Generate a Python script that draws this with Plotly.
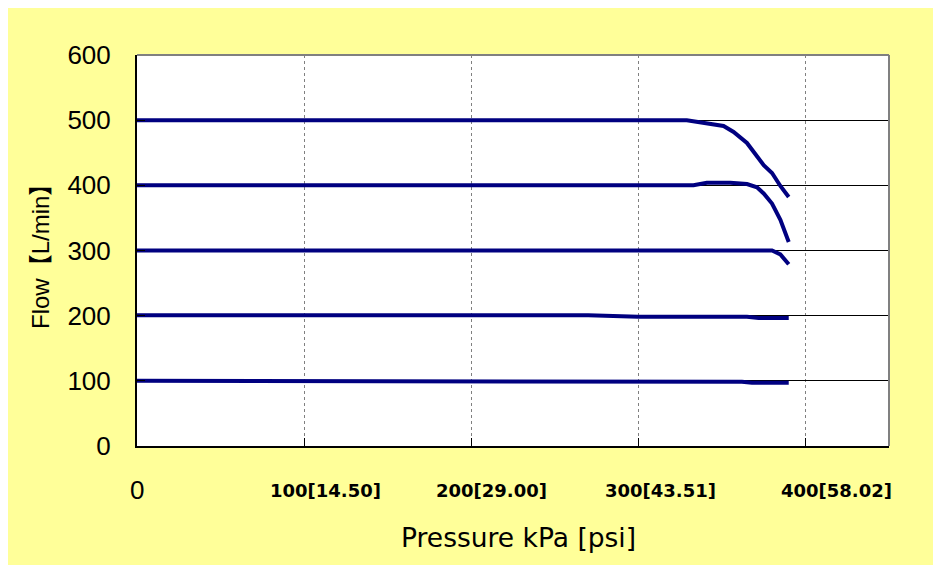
import plotly.graph_objects as go

# ---- data ----
p100 = [0, 325, 340, 362, 368, 390]
q100 = [100, 100, 98.5, 98.5, 97, 97]

p200 = [0, 270, 300, 365, 372, 390]
q200 = [200.5, 200.5, 198.5, 198.5, 196.5, 196.5]

p300 = [0, 380, 385, 390]
q300 = [300, 300, 294, 279]

p400 = [0, 333, 341, 355, 365, 371, 375, 380, 385, 390]
q400 = [400, 400, 404, 404, 402, 397, 387.5, 372, 347, 313]

p500 = [0, 329, 351, 357, 365, 370, 375, 380, 385, 390]
q500 = [500, 500, 491, 482, 465, 449, 431, 419, 399, 382]

x_tick_vals = [0, 100, 200, 300, 400]
x_tick_text = ["0", "100[14.50]", "200[29.00]", "300[43.51]", "400[58.02]"]
y_tick_vals = [0, 100, 200, 300, 400, 500, 600]

x_title = "Pressure kPa [psi]"
y_title = "Flow【L/min】"

NAVY = "#000080"
YELLOW = "#FFFF99"

fig = go.Figure()
for px, qy in [(p100, q100), (p200, q200), (p300, q300), (p400, q400), (p500, q500)]:
    fig.add_trace(go.Scatter(x=px, y=qy, mode="lines",
                             line=dict(color=NAVY, width=4),
                             showlegend=False, hoverinfo="skip"))

OFF = 8  # page body margin
W, H = 941 - OFF, 565 - OFF
# plot area in page pixels: x 137..889, y 55..446
L, R, T, B = 137 - OFF, 941 - 889, 55 - OFF, 565 - 446
pw, ph = W - L - R, H - T - B

def px2paper_x(v):
    # v in page pixels
    return (v - OFF - L) / pw

def px2paper_y(v):
    return (H - B - (v - OFF)) / ph

shapes = [
    dict(type="rect", xref="paper", yref="paper", layer="below",
         x0=px2paper_x(7), x1=px2paper_x(960),
         y0=px2paper_y(580), y1=px2paper_y(5),
         fillcolor=YELLOW, line=dict(width=0)),
    dict(type="rect", xref="paper", yref="paper", layer="below",
         x0=0, x1=1, y0=0, y1=1, fillcolor="white", line=dict(width=0)),
    dict(type="line", xref="paper", yref="paper", x0=0, x1=1, y0=1, y1=1,
         line=dict(color="#808080", width=2)),
    dict(type="line", xref="paper", yref="paper", x0=1, x1=1, y0=0, y1=1,
         line=dict(color="#808080", width=2)),
]

annotations = []
x_label_shift = [0, 21, 20, 22, 31]
for v, t, s in zip(x_tick_vals, x_tick_text, x_label_shift):
    if v == 0:
        fnt = dict(family="Liberation Sans, Arial", size=26, color="black")
    else:
        fnt = dict(family="DejaVu Sans, Verdana", size=18, color="black", weight="bold")
    annotations.append(dict(x=v, y=px2paper_y(490), xref="x", yref="paper",
                            text=t, showarrow=False, xanchor="center",
                            yanchor="middle", xshift=s, font=fnt))
annotations.append(dict(x=px2paper_x(518), y=px2paper_y(537), xref="paper", yref="paper",
                        text=x_title, showarrow=False, xanchor="center", yanchor="middle",
                        font=dict(family="DejaVu Sans, Verdana", size=26.5, color="black")))
annotations.append(dict(x=px2paper_x(40), y=px2paper_y(251), xref="paper", yref="paper",
                        text=y_title, showarrow=False, xanchor="center", yanchor="middle",
                        textangle=-90,
                        font=dict(family="Liberation Sans, Noto Sans CJK JP", size=24, color="black")))

fig.update_layout(
    width=W, height=H,
    margin=dict(l=L, r=R, t=T, b=B, pad=0),
    paper_bgcolor="white",
    plot_bgcolor="white",
    shapes=shapes,
    annotations=annotations,
    xaxis=dict(range=[0, 450], tickvals=x_tick_vals, showticklabels=False,
               showgrid=True, gridcolor="#808080", gridwidth=1, griddash="dot",
               showline=True, linecolor="black", linewidth=2,
               ticks="inside", ticklen=8, tickcolor="black", tickwidth=1,
               zeroline=False, fixedrange=True),
    yaxis=dict(range=[0, 600], tickvals=y_tick_vals,
               tickfont=dict(family="Liberation Sans, Arial", size=26, color="black"),
               showgrid=True, gridcolor="black", gridwidth=1,
               showline=True, linecolor="black", linewidth=2,
               ticks="inside", ticklen=8, tickcolor="black", tickwidth=1,
               ticklabelstandoff=19,
               zeroline=False, fixedrange=True),
)

fig.write_html("out.html")
